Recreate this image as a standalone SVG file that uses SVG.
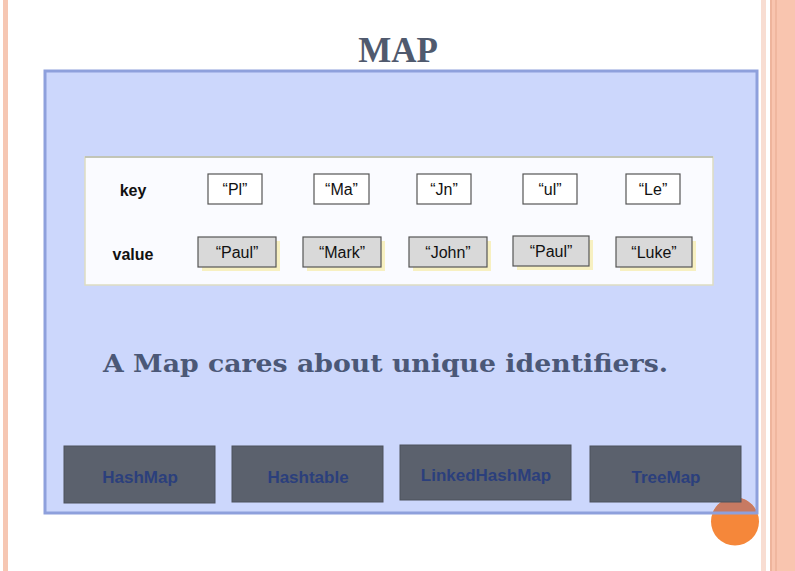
<svg xmlns="http://www.w3.org/2000/svg" width="795" height="571" viewBox="0 0 795 571">
  <style>
    .title { font-family: "Liberation Serif", "Times New Roman", serif; font-weight: bold; font-size: 35px; fill: #505a6e; text-anchor: middle; }
    .sent { font-family: "DejaVu Serif", "Liberation Serif", serif; font-weight: bold; font-size: 24px; fill: #4b5877; }
    .lbl { font-family: "Liberation Sans", Arial, sans-serif; font-weight: bold; font-size: 16px; fill: #111; text-anchor: middle; }
    .cell { font-family: "Liberation Sans", Arial, sans-serif; font-size: 16px; fill: #111; text-anchor: middle; }
    .key rect { fill: #ffffff; stroke: #555; stroke-width: 1.2; }
    .val rect.box { fill: #d9d9d9; stroke: #555; stroke-width: 1.2; }
    .val rect.sh { fill: #f6eeb2; opacity: 0.8; }
    .btn rect { fill: #5b616d; stroke: #4c525d; stroke-width: 1; }
    .btn text { font-family: "Liberation Sans", Arial, sans-serif; font-weight: bold; font-size: 17px; fill: #2b3f7c; text-anchor: middle; }
  </style>

  <!-- page background -->
  <rect x="0" y="0" width="795" height="571" fill="#ffffff"/>
  <rect x="3" y="0" width="5" height="571" fill="#f6c7b3"/>
  <rect x="761" y="0" width="5" height="571" fill="#f8ddd2"/>
  <rect x="770" y="0" width="25" height="571" fill="#f9c5af"/>
  <rect x="770" y="0" width="2" height="571" fill="#eeb49c"/>
  <rect x="775" y="0" width="2" height="571" fill="#f0b79f"/>

  <!-- title -->
  <text class="title" x="398" y="62">MAP</text>

  <!-- main panel -->
  <g id="panel">
    <rect x="45" y="71" width="712" height="442" fill="#ccd7fc"/>
  </g>

  <!-- orange dot -->
  <g id="dot">
    <circle cx="735" cy="521.5" r="24" fill="#f5873a"/>
    <path d="M712.6,513 A24,24 0 0 1 757.4,513 Z" fill="#c77a62"/>
  </g>

  <!-- table -->
  <g id="table">
    <rect x="85" y="157" width="628" height="128" fill="#fafbff" stroke="#ddddc2" stroke-width="1.5"/>
    <line x1="85" y1="157" x2="713" y2="157" stroke="#b9bcae" stroke-width="1.5"/>
    <text class="lbl" x="133" y="196">key</text>
    <text class="lbl" x="133" y="260">value</text>
  </g>

  <g id="key-pl" class="key"><rect x="208" y="174" width="54" height="30"/><text class="cell" x="235" y="195">“Pl”</text></g>
  <g id="key-ma" class="key"><rect x="314" y="174" width="55" height="30"/><text class="cell" x="341.5" y="195">“Ma”</text></g>
  <g id="key-jn" class="key"><rect x="417" y="174" width="54" height="30"/><text class="cell" x="444" y="195">“Jn”</text></g>
  <g id="key-ul" class="key"><rect x="523" y="174" width="54" height="30"/><text class="cell" x="550" y="195">“ul”</text></g>
  <g id="key-le" class="key"><rect x="626" y="174" width="54" height="30"/><text class="cell" x="653" y="195">“Le”</text></g>

  <g id="val-paul1" class="val"><rect class="sh" x="202" y="241" width="78" height="30"/><rect class="box" x="198" y="237" width="78" height="30"/><text class="cell" x="237" y="258">“Paul”</text></g>
  <g id="val-mark" class="val"><rect class="sh" x="307" y="241" width="78" height="30"/><rect class="box" x="303" y="237" width="78" height="30"/><text class="cell" x="342" y="258">“Mark”</text></g>
  <g id="val-john" class="val"><rect class="sh" x="413" y="241" width="78" height="30"/><rect class="box" x="409" y="237" width="78" height="30"/><text class="cell" x="448" y="258">“John”</text></g>
  <g id="val-paul2" class="val"><rect class="sh" x="517" y="240" width="76" height="30"/><rect class="box" x="513" y="236" width="76" height="30"/><text class="cell" x="551" y="257">“Paul”</text></g>
  <g id="val-luke" class="val"><rect class="sh" x="620" y="241" width="76" height="30"/><rect class="box" x="616" y="237" width="76" height="30"/><text class="cell" x="654" y="258">“Luke”</text></g>

  <!-- sentence -->
  <text class="sent" x="103" y="372" textLength="565" lengthAdjust="spacingAndGlyphs">A Map cares about unique identifiers.</text>

  <!-- implementations -->
  <g id="btn-hashmap" class="btn"><rect x="64" y="446" width="151" height="57"/><text x="140" y="483">HashMap</text></g>
  <g id="btn-hashtable" class="btn"><rect x="232" y="446" width="151" height="56"/><text x="308" y="483">Hashtable</text></g>
  <g id="btn-linked" class="btn"><rect x="400" y="445" width="171" height="55"/><text x="486" y="481">LinkedHashMap</text></g>
  <g id="btn-treemap" class="btn"><rect x="590" y="446" width="151" height="56"/><text x="666" y="483">TreeMap</text></g>

  <!-- panel border on top -->
  <rect x="45" y="71" width="712" height="442" fill="none" stroke="#8ea0dc" stroke-width="3"/>
</svg>
